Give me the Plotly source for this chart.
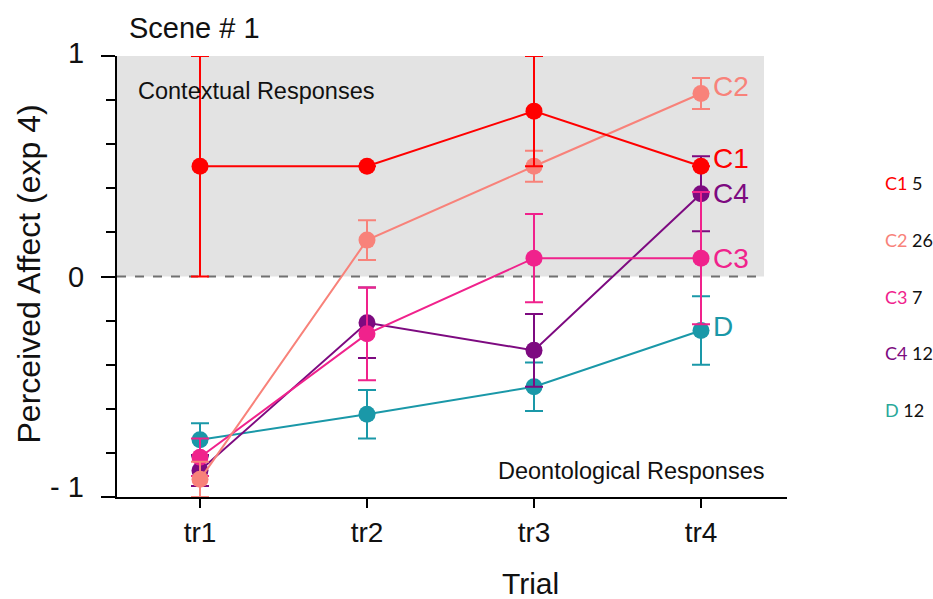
import plotly.graph_objects as go

# Trials and mean perceived affect per response group (with error half-widths)
trials = ["tr1", "tr2", "tr3", "tr4"]

c1_mean = [0.5, 0.5, 0.75, 0.5]
c1_err = [0.5, None, 0.25, None]

c2_mean = [-0.92, 0.165, 0.5, 0.83]
c2_err = [0.08, 0.09, 0.07, 0.07]

c3_mean = [-0.82, -0.26, 0.083, 0.083]
c3_err = [0.085, 0.21, 0.2, 0.3]

c4_mean = [-0.88, -0.21, -0.335, 0.375]
c4_err = [0.07, 0.16, 0.165, 0.17]

d_mean = [-0.74, -0.625, -0.5, -0.245]
d_err = [0.075, 0.11, 0.11, 0.155]

group_names = ["D", "C4", "C3", "C2", "C1"]
group_counts = [12, 12, 7, 26, 5]

colors = {
    "C1": "#FF0000",
    "C2": "#F8827A",
    "C3": "#F0228C",
    "C4": "#7D0A80",
    "D": "#1A98A8",
}
legend_colors = dict(colors, D="#2AA89A")

series = {
    "D": (d_mean, d_err),
    "C4": (c4_mean, c4_err),
    "C3": (c3_mean, c3_err),
    "C2": (c2_mean, c2_err),
    "C1": (c1_mean, c1_err),
}

FONT = "Liberation Sans, Arial, sans-serif"
xs = list(range(len(trials)))

# Plot-area geometry in pixels
L, R, T, B = 117, 146, 56, 102
W, H = 933 - L - R, 599 - T - B


def px_x(p):
    return (p - L) / W


def px_y(p):
    return (599 - B - p) / H


fig = go.Figure()

for name in group_names:
    mean, err = series[name]
    col = colors[name]
    fig.add_trace(go.Scatter(
        x=xs, y=mean, mode="lines+markers", name=name,
        line=dict(color=col, width=2),
        marker=dict(color=col, size=17),
        error_y=dict(type="data", array=err, visible=True,
                     color=col, thickness=2, width=9),
        showlegend=False,
    ))

# End-of-line group labels, nudged so they do not collide
label_nudge = {"C1": 0.035, "C2": 0.03, "C3": 0.0, "C4": 0.0, "D": 0.02}
for name in group_names:
    mean, _ = series[name]
    fig.add_annotation(
        x=xs[-1], y=mean[-1] + label_nudge[name], xref="x", yref="y",
        text=name, showarrow=False, xanchor="left", yanchor="middle",
        xshift=11, borderpad=0, font=dict(family=FONT, size=28, color=colors[name]),
    )

# Group sizes listed on the right
for i, name in enumerate(["C1", "C2", "C3", "C4", "D"]):
    n = group_counts[group_names.index(name)]
    fig.add_annotation(
        x=px_x(883), y=px_y(183 + 56.8 * i), xref="paper", yref="paper",
        text=f"<span style='color:{legend_colors[name]}'>{name}</span> {n}",
        showarrow=False, xanchor="left", yanchor="middle",
        font=dict(family="Lato, Carlito, sans-serif", size=18, color="#111111"),
    )

# Region captions, title and axis titles
fig.add_annotation(x=px_x(136), y=0.84, xref="paper", yref="y", text="Contextual Responses",
                   showarrow=False, xanchor="left", yanchor="middle",
                   font=dict(family=FONT, size=23.5, color="#111111"))
fig.add_annotation(x=px_x(767), y=-0.88, xref="paper", yref="y", text="Deontological Responses",
                   showarrow=False, xanchor="right", yanchor="middle",
                   font=dict(family=FONT, size=23.5, color="#111111"))
fig.add_annotation(x=px_x(127), y=px_y(28), xref="paper", yref="paper", text="Scene # 1",
                   showarrow=False, xanchor="left", yanchor="middle",
                   font=dict(family=FONT, size=29, color="#111111"))
fig.add_annotation(x=px_x(28), y=0.0, xref="paper", yref="y", text="Perceived Affect (exp 4)",
                   textangle=-90, showarrow=False, xanchor="center", yanchor="middle",
                   yshift=2, font=dict(family=FONT, size=32, color="#111111"))
fig.add_annotation(x=px_x(530), y=px_y(583), xref="paper", yref="paper", text="Trial",
                   showarrow=False, xanchor="center", yanchor="middle",
                   font=dict(family=FONT, size=30, color="#111111"))

# Y tick labels
for val, txt, shift in [(1, "1", 3), (0, "0", 0), (-1, "- 1", 10)]:
    fig.add_annotation(x=px_x(86), y=val, xref="paper", yref="y", text=txt,
                       showarrow=False, xanchor="right", yanchor="middle", yshift=shift,
                       font=dict(family=FONT, size=29, color="#111111"))

shade_right = px_x(764)
fig.add_shape(type="rect", xref="paper", yref="y", x0=0, x1=shade_right, y0=0, y1=1,
              fillcolor="#E3E3E3", line=dict(width=0), layer="below")
fig.add_shape(type="line", xref="paper", yref="y", x0=0, x1=shade_right, y0=0, y1=0,
              line=dict(color="#707070", width=2, dash="dash"), layer="below")
# Short extension of the baseline to the left of the y axis
fig.add_shape(type="line", xref="paper", yref="y", x0=px_x(103), x1=0, y0=-1, y1=-1,
              line=dict(color="black", width=2))

fig.update_xaxes(
    range=[-0.497, 3.515], tickvals=xs, ticktext=trials,
    showline=True, linecolor="black", linewidth=2,
    ticks="outside", ticklen=9, tickwidth=2, tickcolor="black",
    showgrid=False, zeroline=False,
    tickfont=dict(family=FONT, size=28, color="#111111"),
)
fig.update_yaxes(
    range=[-1, 1], tickvals=[-1, 0, 1], showticklabels=False,
    showline=True, linecolor="black", linewidth=2,
    ticks="outside", ticklen=14, tickwidth=2, tickcolor="black",
    minor=dict(dtick=0.2, tick0=0, ticks="outside", ticklen=9, tickwidth=2,
               tickcolor="black", showgrid=False),
    showgrid=False, zeroline=False,
)

fig.update_layout(
    width=933, height=599,
    margin=dict(l=L, r=R, t=T, b=B),
    plot_bgcolor="white", paper_bgcolor="white",
    showlegend=False,
)

fig.write_html("out.html")
